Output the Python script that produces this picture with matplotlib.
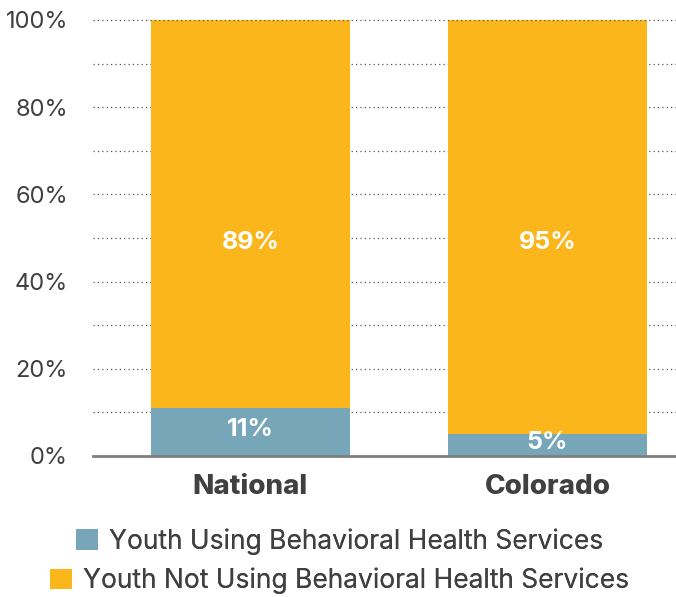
import matplotlib.pyplot as plt
from matplotlib.patches import Patch

# datos
regiones = ["National", "Colorado"]
usa_servicios = [11, 5]
no_usa_servicios = [89, 95]
etiquetas_eje_y = ["0%", "20%", "40%", "60%", "80%", "100%"]
serie_usa = "Youth Using Behavioral Health Services"
serie_no_usa = "Youth Not Using Behavioral Health Services"

azul = "#78a6b9"
amarillo = "#fbb61b"
gris_texto = "#404040"

plt.rcParams['font.family'] = ['Inter', 'DejaVu Sans']

fig = plt.figure(figsize=(6.76, 5.97), dpi=100)
ax = fig.add_axes([93 / 676, 141 / 597, 1 - 93 / 676, 436 / 597])

x = range(len(regiones))
ancho = 0.67
ax.bar(x, usa_servicios, width=ancho, color=azul, zorder=2)
ax.bar(x, no_usa_servicios, width=ancho, bottom=usa_servicios, color=amarillo, zorder=2)

# etiquetas de valores
for i in x:
    ax.text(i, usa_servicios[i] / 2 + 0.6, f"{usa_servicios[i]}%", ha="center", va="center",
            color="white", fontsize=18, fontweight="bold")
    ax.text(i, 49, f"{no_usa_servicios[i]}%", ha="center", va="center",
            color="white", fontsize=18, fontweight="bold")

ax.set_xlim(-0.53, 1.433)
ax.set_ylim(0, 100)

# lineas de cuadricula punteadas cada 10%
for y in range(10, 101, 10):
    ax.axhline(y, color="#555555", linestyle=(0, (1, 2.5)), linewidth=0.9,
               zorder=3 if y == 100 else 1, clip_on=False)

ax.set_yticks(range(0, 101, 20))
ax.set_yticklabels(etiquetas_eje_y, fontsize=17, color=gris_texto)
ax.set_xticks(list(x))
ax.set_xticklabels(regiones, fontsize=20, color=gris_texto, fontweight="heavy")
ax.tick_params(axis="both", length=0)
ax.tick_params(axis="y", pad=18)
ax.tick_params(axis="x", pad=13)

for lado in ["top", "right", "left"]:
    ax.spines[lado].set_visible(False)
ax.spines["bottom"].set_color("#7f7f7f")
ax.spines["bottom"].set_linewidth(2)
ax.spines["bottom"].set_zorder(4)

# leyenda en dos renglones centrados
for nombre, color, yc in [(serie_usa, azul, 0.093), (serie_no_usa, amarillo, 0.027)]:
    ley = fig.legend(handles=[Patch(facecolor=color)], labels=[nombre],
                     loc="center", bbox_to_anchor=(0.503, yc), frameon=False,
                     fontsize=19, handlelength=0.8, handleheight=0.8,
                     handletextpad=0.45, labelcolor=gris_texto, borderpad=0)
    fig.add_artist(ley)

fig.savefig("out.png", dpi=100)
